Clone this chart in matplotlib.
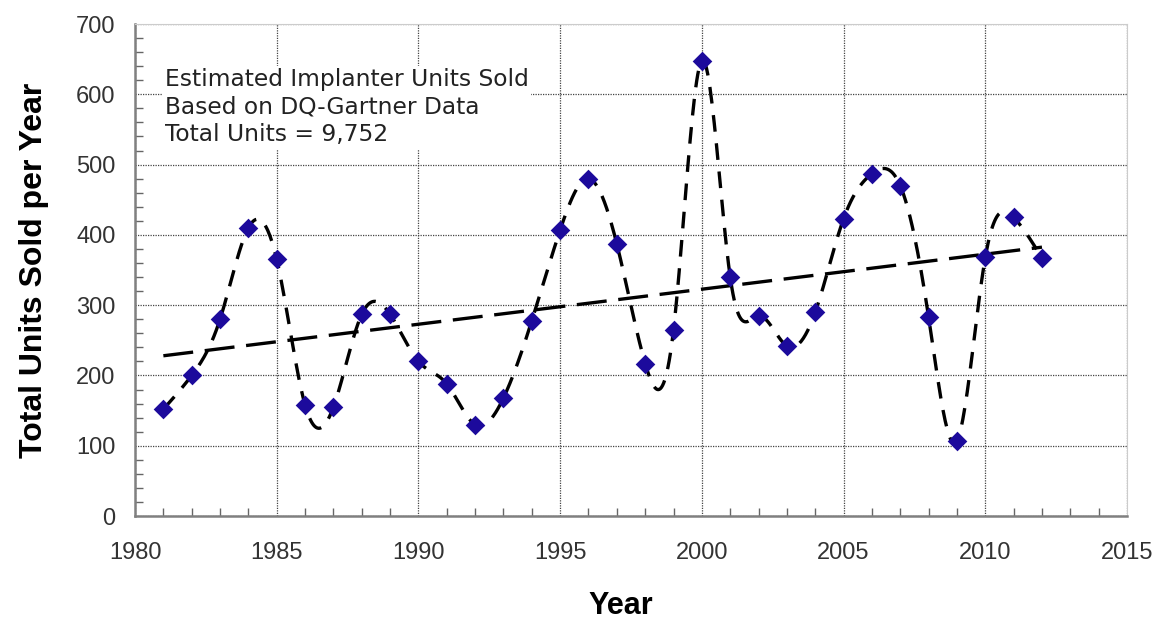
import matplotlib
matplotlib.use('Agg')
import matplotlib.pyplot as plt
from matplotlib.ticker import MultipleLocator
import numpy as np

years = np.arange(1981, 2013)
units = [152, 200, 280, 410, 365, 158, 155, 287, 287, 220,
         188, 130, 168, 278, 407, 480, 387, 217, 265, 648,
         340, 285, 242, 290, 423, 487, 470, 283, 107, 368,
         425, 367]
note_lines = ["Estimated Implanter Units Sold",
              "Based on DQ-Gartner Data",
              "Total Units = 9,752"]


def natural_spline(x, y, xs):
    # natural cubic spline, solved as a tridiagonal system
    x = np.asarray(x, float)
    y = np.asarray(y, float)
    n = len(x)
    h = np.diff(x)
    A = np.zeros((n, n))
    b = np.zeros(n)
    A[0, 0] = A[-1, -1] = 1
    for i in range(1, n - 1):
        A[i, i - 1] = h[i - 1]
        A[i, i] = 2 * (h[i - 1] + h[i])
        A[i, i + 1] = h[i]
        b[i] = 6 * ((y[i + 1] - y[i]) / h[i] - (y[i] - y[i - 1]) / h[i - 1])
    m = np.linalg.solve(A, b)
    idx = np.clip(np.searchsorted(x, xs) - 1, 0, n - 2)
    x0, x1 = x[idx], x[idx + 1]
    hh = x1 - x0
    t0, t1 = x1 - xs, xs - x0
    return (m[idx] * t0**3 / (6 * hh) + m[idx + 1] * t1**3 / (6 * hh)
            + (y[idx] / hh - m[idx] * hh / 6) * t0
            + (y[idx + 1] / hh - m[idx + 1] * hh / 6) * t1)


fig = plt.figure(figsize=(11.54, 6.24), dpi=100)
ax = fig.add_axes([0.117, 0.173, 0.8596, 0.7885])

# smooth curve through the points
xs = np.linspace(years[0], years[-1], 800)
ax.plot(xs, natural_spline(years, units, xs), color='black', lw=2.4,
        dashes=(5, 3.5), zorder=3)

# linear trend
coef = np.polyfit(years, units, 1)
ax.plot(years, np.polyval(coef, years), color='black', lw=2.4,
        dashes=(9, 3.5), zorder=3)

ax.scatter(years, units, marker='D', s=100, color='#1c0a9c', zorder=4,
           linewidths=0)

ax.set_xlim(1980, 2015)
ax.set_ylim(0, 700)
ax.xaxis.set_major_locator(MultipleLocator(5))
ax.xaxis.set_minor_locator(MultipleLocator(1))
ax.yaxis.set_major_locator(MultipleLocator(100))
ax.yaxis.set_minor_locator(MultipleLocator(20))
ax.grid(True, which='major', color='#444444', lw=0.9, ls=(0, (1, 1)))
ax.tick_params(which='both', direction='in', colors='#666666',
               labelcolor='#333333', labelsize=17)
ax.tick_params(axis='x', which='major', length=0, pad=19)
ax.tick_params(axis='y', which='major', length=0, pad=14)
ax.tick_params(which='minor', length=6, width=1)
for lab in ax.get_xticklabels() + ax.get_yticklabels():
    lab.set_family('Liberation Sans')
for side in ['top', 'right']:
    ax.spines[side].set_color('#cccccc')
for side in ['left', 'bottom']:
    ax.spines[side].set_color('#808080')
    ax.spines[side].set_linewidth(1.8)

ax.set_xlabel('Year', fontsize=22, fontweight='bold', family='Liberation Sans')
ax.xaxis.set_label_coords(0.49, -0.152)
ax.set_ylabel('Total Units Sold per Year', fontsize=23, fontweight='bold',
              family='Liberation Sans')
ax.yaxis.set_label_coords(-0.087, 0.5)

ax.text(1981.05, 637, "\n".join(note_lines), fontsize=16.8, color='#222222',
        va='top', ha='left', linespacing=1.25, zorder=5,
        bbox=dict(facecolor='white', edgecolor='none', pad=2))

fig.savefig('out.png', dpi=100)
